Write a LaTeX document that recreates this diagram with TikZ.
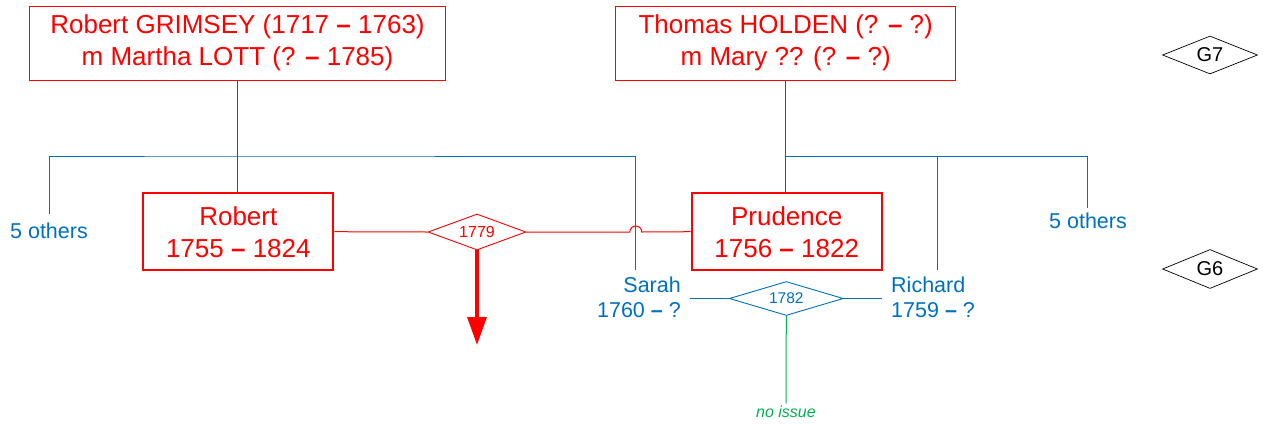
\documentclass[tikz,border=0pt]{standalone}
\usepackage{fontspec}
\setmainfont{Liberation Sans}
\usetikzlibrary{shapes.geometric,arrows.meta,positioning}
\definecolor{famred}{RGB}{255,0,0}
\definecolor{famblue}{RGB}{0,112,192}
\definecolor{famgreen}{RGB}{0,176,80}
\newcommand{\yrdash}{{\bfseries –}}
\tikzset{
  couple/.style={draw=famred, line width=1pt, text=famred, align=center, inner sep=0pt,
    font=\fontsize{26}{32}\selectfont},
  person/.style={couple, line width=2pt},
  wedding/.style={diamond, aspect=2.7, draw=famred, line width=0.9pt, inner sep=0pt, text=famred,
    font=\fontsize{16}{18}\selectfont},
  sibling/.style={text=famblue, inner xsep=9pt, inner ysep=0pt, font=\fontsize{21.5}{25}\selectfont},
  gen/.style={diamond, aspect=2.5, draw=black, line width=0.7pt, inner sep=0pt, minimum width=95pt,
    minimum height=38pt, font=\fontsize{20}{22}\selectfont},
  redline/.style={draw=famred, line width=1pt},
  blueline/.style={draw=famblue, line width=1pt},
  heirarrow/.style={draw=famred, line width=3.2pt, -{Triangle[length=28pt,width=19pt]}}
}
\begin{document}
\begin{tikzpicture}[x=1pt, y=-1pt]
  \useasboundingbox (0,0) rectangle (1263,424);
  % generation 7
  \node[couple, minimum width=416pt, minimum height=74pt] (grim) at (237.5,43)
    {Robert GRIMSEY (1717 \yrdash{} 1763)\\m Martha LOTT (? \yrdash{} 1785)};
  \node[couple, minimum width=340pt, minimum height=74pt] (hold) at (785.7,43)
    {Thomas HOLDEN (? \yrdash{} ?)\\m Mary ?? (? \yrdash{} ?)};
  \node[gen] (g7) at (1210,55) {G7};
  % generation 6
  \node[person, minimum width=190pt, minimum height=77pt] (rob) at (238.3,231.7)
    {Robert\\1755 \yrdash{} 1824};
  \node[person, minimum width=190pt, minimum height=77pt] (prud) at (786.7,231.7)
    {Prudence\\1756 \yrdash{} 1822};
  \node[gen, minimum height=39pt] (g6) at (1210,269) {G6};
  \node[wedding, minimum width=98pt, minimum height=36pt] (m1779) at (477,232) {1779};
  \node[wedding, draw=famblue, text=famblue, minimum width=114pt, minimum height=34pt,
    font=\fontsize{15.5}{17}\selectfont] (m1782) at (786.3,298.5) {1782};
  \node[sibling, align=right, anchor=east] (sarah) at (690,297) {Sarah\\1760 \yrdash{} ?};
  \node[sibling, align=left, anchor=west] (rich) at (882,297) {Richard\\1759 \yrdash{} ?};
  \node[sibling, inner sep=0pt] (gfive) at (49,231) {5 others};
  \node[sibling, inner sep=0pt] (hfive) at (1088,221) {5 others};
  \node[text=famgreen, inner sep=2pt, font=\fontsize{16}{18}\selectfont\itshape] (noissue)
    at (786,411.5) {no issue};
  % junctions
  \coordinate (gj) at (237.7,156);
  \coordinate (hj) at (785.5,156);
  \coordinate (gfivetop) at (49.7,214);
  \coordinate (sarahtop) at (635.8,270);
  \coordinate (richtop) at (937.7,270);
  \coordinate (hfivetop) at (1087.7,208);
  \coordinate (hop) at (635.8,232);
  \coordinate (heir) at (477,345);
  % siblings
  \draw[blueline] (gfivetop) |- (gj) -| (sarahtop);
  \draw[blueline] (hj) -| (hfivetop);
  \draw[blueline] (richtop) -- (richtop |- hj);
  % descent
  \draw[redline] (grim.south -| gj) -- (gj) -- (rob.north -| gj);
  \draw[redline] (hold.south -| hj) -- (hj) -- (prud.north -| hj);
  % marriages
  \draw[redline] (rob.east) -- (m1779.west);
  \draw[redline] (m1779.east) -- ([xshift=-6pt]hop) arc[start angle=180, end angle=0, radius=6pt]
    -- (prud.west);
  \draw[heirarrow] (m1779.south) -- (heir);
  \draw[blueline] (sarah.east |- m1782.west) -- (m1782.west);
  \draw[blueline] (m1782.east) -- (rich.west |- m1782.east);
  \draw[draw=famgreen, line width=1pt] (m1782.south) -- (noissue.north);
\end{tikzpicture}
\end{document}
